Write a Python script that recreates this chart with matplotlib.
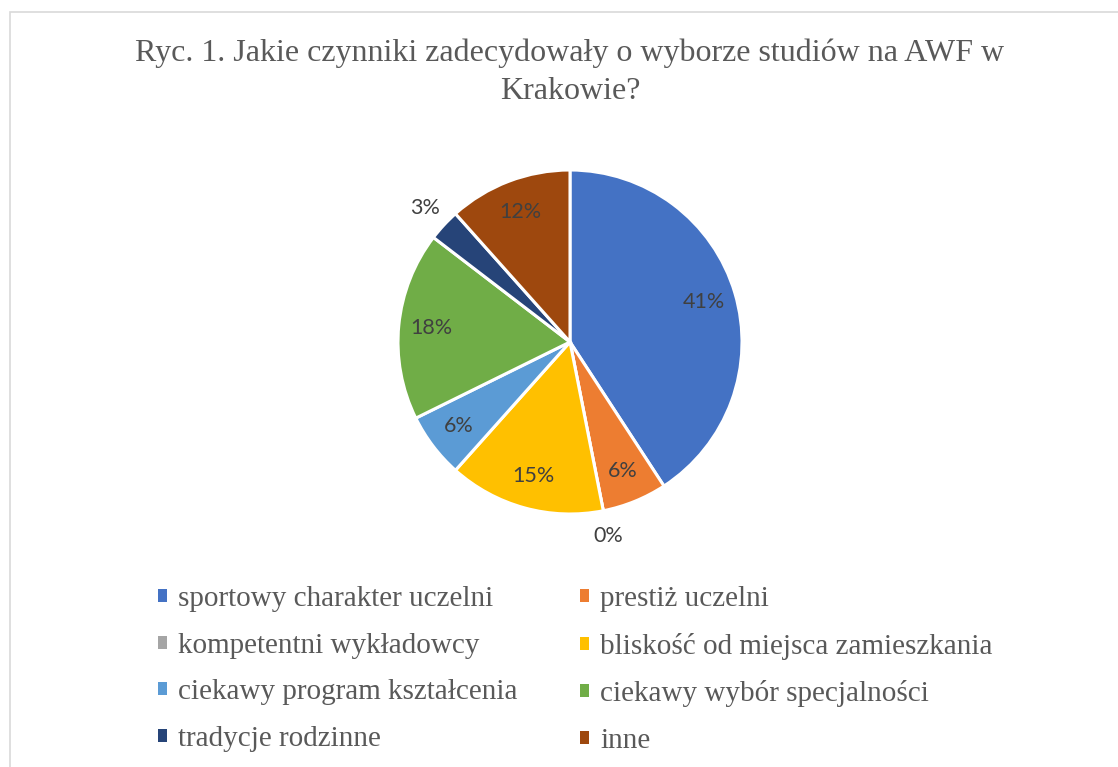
"""
 Pie chart of study choice factors (AWF Krakow survey)
"""

# Libraries
import numpy as np
import matplotlib.pyplot as plt
from matplotlib.patches import Rectangle

# Data
categories = [
    "sportowy charakter uczelni",
    "prestiż uczelni",
    "kompetentni wykładowcy",
    "bliskość od miejsca zamieszkania",
    "ciekawy program kształcenia",
    "ciekawy wybór specjalności",
    "tradycje rodzinne",
    "inne",
]
shares = [40.8, 6.1, 0.0, 14.7, 6.1, 17.7, 3.0, 11.6]
colours = ["#4472C4", "#ED7D31", "#A5A5A5", "#FFC000",
           "#5B9BD5", "#70AD47", "#264478", "#9E480E"]
title = "Ryc. 1. Jakie czynniki zadecydowały o wyborze studiów na AWF w\nKrakowie?"

# Figure
W, H = 1118, 767
fig = plt.figure(figsize=(W/100, H/100), dpi=100)
fig.patches.append(Rectangle((10/W, -0.1), 1.2, 1.1 - 12/H, transform=fig.transFigure,
                             fill=False, edgecolor="#D9D9D9", linewidth=1.2))

# Pie axes placed so that centre and radius match the reference
cx, cy, R = 570, 342, 172
ax = fig.add_axes([(cx-R)/W, 1-(cy+R)/H, 2*R/W, 2*R/H])
wedges, texts, autotexts = ax.pie(
    shares, colors=colours, startangle=90, counterclock=False, radius=1,
    autopct="%.0f%%", pctdistance=0.81,
    wedgeprops=dict(edgecolor="white", linewidth=2.2),
    textprops=dict(family="Lato", fontsize=15.5, color="#404040"))
ax.set_xlim(-1, 1)
ax.set_ylim(-1, 1)
ax.axis("off")

# Small slices get their labels outside
for wedge, label, value in zip(wedges, autotexts, shares):
    if value < 4:
        mid = np.deg2rad((wedge.theta1 + wedge.theta2) / 2)
        label.set_position((1.15*np.cos(mid), 1.15*np.sin(mid)))

# Title
fig.text(cx/W, 1-39/H, title, ha="center", va="top", family="Liberation Serif",
         fontsize=23, color="#595959", linespacing=1.38)

# Legend (row-major order like Excel, matplotlib fills by column)
order = [0, 2, 4, 6, 1, 3, 5, 7]
handles = [Rectangle((0, 0), 1, 1, facecolor=colours[i]) for i in order]
labels = [categories[i] for i in order]
fig.legend(handles, labels, ncol=2, loc="upper left",
           bbox_to_anchor=(158/W, 1-586/H), frameon=False,
           borderpad=0, borderaxespad=0,
           prop=dict(family="Liberation Serif", size=21),
           labelcolor="#595959", handlelength=0.31, handleheight=0.31,
           handletextpad=0.38, labelspacing=0.71, columnspacing=2.15)

plt.savefig("out.png", dpi=100)
